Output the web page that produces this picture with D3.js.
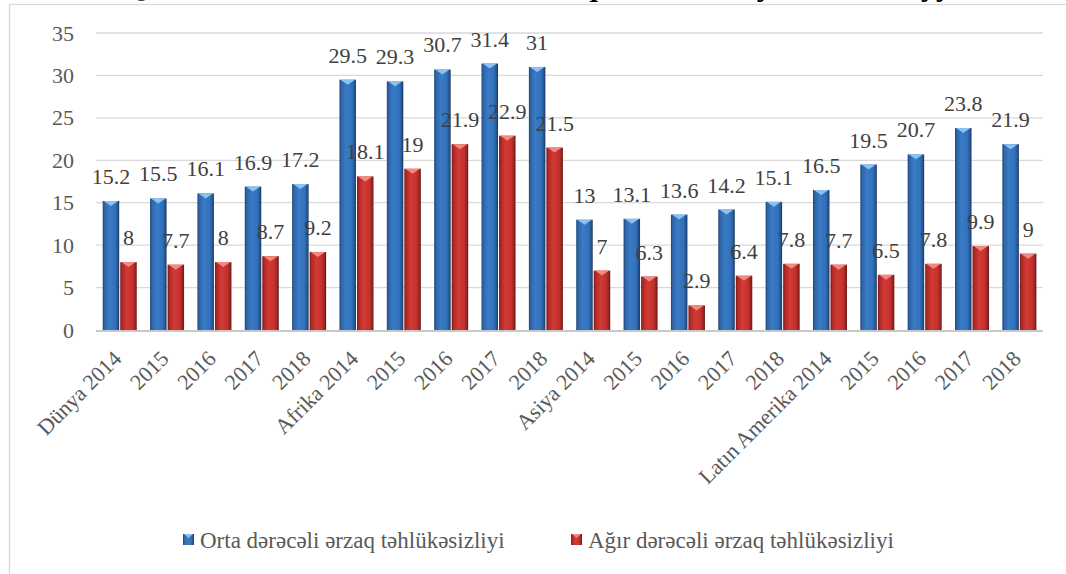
<!DOCTYPE html>
<html lang="az">
<head>
	<meta charset="UTF-8">
	<title>Ərzaq təhlükəsizliyi</title>

	<script src="https://cdn.jsdelivr.net/npm/d3@7"></script>

	<style>
		body {
			margin: 0;
			background: #fff;
		}

		text {
			font-family: "Liberation Serif", "Times New Roman", "DejaVu Serif", serif;
		}
	</style>

</head>
<body>

<script type="text/javascript">

	// category labels (x axis)
	var categories = [
		'Dünya 2014', '2015', '2016', '2017', '2018',
		'Afrika 2014', '2015', '2016', '2017', '2018',
		'Asiya 2014', '2015', '2016', '2017', '2018',
		'Latın Amerika 2014', '2015', '2016', '2017', '2018'
	];

	var seriesNames = ['Orta dərəcəli ərzaq təhlükəsizliyi', 'Ağır dərəcəli ərzaq təhlükəsizliyi'];

	var orta = [15.2, 15.5, 16.1, 16.9, 17.2, 29.5, 29.3, 30.7, 31.4, 31, 13, 13.1, 13.6, 14.2, 15.1, 16.5, 19.5, 20.7, 23.8, 21.9];
	var agir = [8, 7.7, 8, 8.7, 9.2, 18.1, 19, 21.9, 22.9, 21.5, 7, 6.3, 2.9, 6.4, 7.8, 7.7, 6.5, 7.8, 9.9, 9];

	var yTicks = [0, 5, 10, 15, 20, 25, 30, 35];

	// the title sits above the visible area in the original, only its descenders show;
	// it is split in pieces so the few descenders fall where they do in the picture
	var titleParts = ['Qitələr üzrə mötədil və kəskin ərzaq', 'təhlükəsizliyi', 'olan əhalinin səvi', 'yyəsi'];
	var titlePos = [[122, 476], [606, 175], [789, 130], [921, 0]];

	var width = 1066, height = 574;
	var plot = {left: 96, right: 1043, top: 33, bottom: 330};
	var serif = '"Liberation Serif", "Times New Roman", "DejaVu Serif", serif';

	var svg = d3.select('body').append('svg')
		.attr('width', width)
		.attr('height', height);

	var defs = svg.append('defs');

	function grad(id, stops) {
		var g = defs.append('linearGradient')
			.attr('id', id)
			.attr('x1', '0%').attr('x2', '100%')
			.attr('y1', '0%').attr('y2', '0%');
		stops.forEach(function (s) {
			g.append('stop').attr('offset', s[0]).attr('stop-color', s[1]);
		});
	}

	grad('gBlue', [[0, '#1e4478'], [0.12, '#2f66a8'], [0.4, '#3a7bc6'], [0.75, '#3271bb'], [0.92, '#24548f'], [1, '#162f55']]);
	grad('gRed', [[0, '#7a1816'], [0.12, '#b02a27'], [0.4, '#d23a35'], [0.75, '#c4312d'], [0.92, '#962220'], [1, '#5e1210']]);

	var capColor = {orta: '#8cc2f0', agir: '#f08a80'};
	var fillId = {orta: 'url(#gBlue)', agir: 'url(#gRed)'};

	// chart frame
	svg.append('rect')
		.attr('x', 9.5).attr('y', 4.5)
		.attr('width', 1100).attr('height', 700)
		.attr('fill', 'none')
		.attr('stroke', '#d9d9d9')
		.attr('stroke-width', 1.3);

	var title = svg.append('g');
	titleParts.forEach(function (t, i) {
		var el = title.append('text')
			.attr('x', titlePos[i][0])
			.attr('y', -4.5)
			.attr('font-family', serif)
			.attr('font-size', 30)
			.attr('font-weight', 'bold')
			.attr('fill', '#000')
			.text(t);
		if (titlePos[i][1]) {
			el.attr('textLength', titlePos[i][1]).attr('lengthAdjust', 'spacingAndGlyphs');
		}
	});

	var x = d3.scaleBand()
		.domain(d3.range(categories.length))
		.range([plot.left, plot.right]);

	var xs = d3.scaleBand()
		.domain(['orta', 'agir'])
		.range([x.bandwidth() * 0.142, x.bandwidth() * 0.86])
		.paddingInner(0.06);

	var y = d3.scaleLinear()
		.domain([0, 35])
		.range([plot.bottom, plot.top]);

	// gridlines
	svg.append('g').selectAll('line')
		.data(yTicks.filter(function (d) { return d > 0; }))
		.enter().append('line')
		.attr('x1', plot.left).attr('x2', plot.right)
		.attr('y1', function (d) { return y(d); })
		.attr('y2', function (d) { return y(d); })
		.attr('stroke', '#d9d9d9')
		.attr('stroke-width', 1.3);

	// y axis labels
	var axisY = svg.append('g')
		.attr('transform', 'translate(' + plot.left + ',0)')
		.call(d3.axisLeft(y).tickValues(yTicks).tickSize(0).tickPadding(22));
	axisY.select('.domain').remove();
	axisY.attr('font-family', serif);
	axisY.selectAll('text')
		.attr('font-family', serif)
		.attr('font-size', 22)
		.attr('fill', '#595959');

	var rows = [];
	categories.forEach(function (c, i) {
		rows.push({i: i, key: 'orta', v: orta[i]});
		rows.push({i: i, key: 'agir', v: agir[i]});
	});

	var bars = svg.append('g').selectAll('g')
		.data(rows)
		.enter().append('g')
		.attr('transform', function (d) {
			return 'translate(' + (x(d.i) + xs(d.key)) + ',0)';
		});

	bars.append('rect')
		.attr('x', 0)
		.attr('y', function (d) { return y(d.v); })
		.attr('width', xs.bandwidth())
		.attr('height', function (d) { return y(0) - y(d.v); })
		.attr('fill', function (d) { return fillId[d.key]; });

	bars.append('path')
		.attr('d', function (d) {
			var w = xs.bandwidth(), t = y(d.v);
			return 'M1,' + t + 'L' + (w - 1) + ',' + t + 'L' + (w / 2) + ',' + (t + 5) + 'Z';
		})
		.attr('fill', function (d) { return capColor[d.key]; });

	// x axis line
	svg.append('line')
		.attr('x1', plot.left).attr('x2', plot.right)
		.attr('y1', plot.bottom + 1).attr('y2', plot.bottom + 1)
		.attr('stroke', '#c8c8c8')
		.attr('stroke-width', 2);

	// x labels
	svg.append('g').selectAll('text')
		.data(categories)
		.enter().append('text')
		.attr('transform', function (d, i) {
			return 'translate(' + (x(i) + x.bandwidth() / 2 + 3) + ',' + 360 + ') rotate(-45)';
		})
		.attr('text-anchor', 'end')
		.attr('font-family', serif)
		.attr('font-size', 22)
		.attr('fill', '#595959')
		.text(function (d) { return d; });

	// data labels
	svg.append('g').selectAll('text')
		.data(rows)
		.enter().append('text')
		.attr('x', function (d) { return x(d.i) + xs(d.key) + xs.bandwidth() / 2; })
		.attr('y', function (d) { return y(d.v) - 17; })
		.attr('text-anchor', 'middle')
		.attr('font-family', serif)
		.attr('font-size', 22)
		.attr('fill', '#404040')
		.text(function (d) { return d.v; });

	// legend
	var legendX = [183, 571];
	var legend = svg.append('g').selectAll('g')
		.data(['orta', 'agir'])
		.enter().append('g')
		.attr('transform', function (d, i) { return 'translate(' + legendX[i] + ',534)'; });

	legend.append('rect')
		.attr('width', 11).attr('height', 11)
		.attr('fill', function (d) { return fillId[d]; });
	legend.append('path')
		.attr('d', 'M1,0L10,0L5.5,4Z')
		.attr('fill', function (d) { return capColor[d]; });
	legend.append('text')
		.attr('x', 17)
		.attr('y', 14)
		.attr('font-family', serif)
		.attr('font-size', 23)
		.attr('fill', '#595959')
		.text(function (d, i) { return seriesNames[i]; });

</script>

</body>
</html>
